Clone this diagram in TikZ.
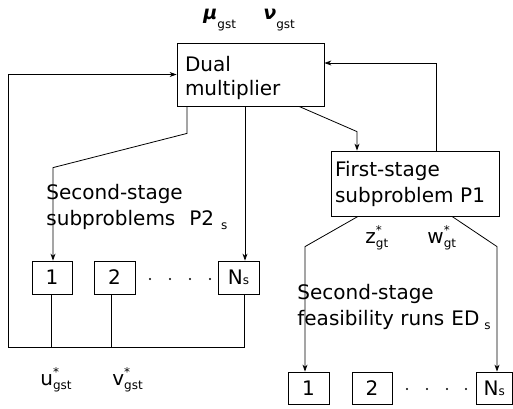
\documentclass[tikz,border=0pt]{standalone}
\usepackage{fontspec}
\setmainfont{DejaVu Sans}
\usetikzlibrary{arrows.meta}

\newcommand{\subfont}{\fontsize{12}{14}\selectfont}
\newcommand{\dualvar}[2]{{\fontsize{19}{19}\selectfont\bfseries\itshape #1}\raisebox{-9pt}{\subfont #2}}
\newcommand{\optvar}[2]{#1\rlap{\raisebox{9pt}{\subfont *}}\raisebox{-4pt}{\subfont #2}}

\begin{document}
\begin{tikzpicture}[x=1pt,y=-1pt,line width=0.8pt,
	>={Stealth[length=7pt,width=5pt]},
	every node/.style={font=\fontsize{20}{26}\selectfont},
	box/.style={draw,inner ysep=0pt,align=left},
	sbox/.style={draw,inner sep=0pt,minimum width=40pt,minimum height=33pt},
	txt/.style={inner sep=0pt,align=left}]
	\useasboundingbox (0,0) rectangle (513,408);

	% boxes
	\node[box,font=\fontsize{20}{24}\selectfont,minimum width=147pt,minimum height=63pt,text width=131pt,text height=22.4pt] (dual) at (250.5,74.5) {Dual\\multiplier};
	\node[box,minimum width=168pt,minimum height=65pt,text width=160pt,inner xsep=4pt] (fs) at (415,183.5) {First-stage\\subproblem P1};

	\node[sbox] (a1) at (52,277.5) {1};
	\node[sbox,minimum width=41pt] (a2) at (114.5,277.5) {2};
	\node[sbox,minimum width=41pt] (aN) at (238.5,277.5) {N{\subfont s}};
	\foreach \x in {150,170,190,210} \fill (\x,279) circle (1.1pt);

	\node[sbox,minimum width=41pt,minimum height=32pt] (b1) at (308.5,388) {1};
	\node[sbox,minimum height=32pt] (b2) at (372,388) {2};
	\node[sbox,minimum width=36.5pt,minimum height=32pt] (bN) at (494.25,388) {N{\subfont s}};
	\foreach \x in {407,427,447,466} \fill (\x,389) circle (1.1pt);

	% labels
	\node[txt,anchor=base west] (mu) at (203,19.5) {\dualvar{μ}{gst}};
	\node[txt,anchor=base west] (nu) at (263,19.5) {\dualvar{ν}{gst}};
	\node[txt,anchor=north west] (p2) at (46,184) {Second-stage\\subproblems\hspace{14pt}P2\hspace{7pt}\raisebox{-4pt}{\subfont s}};
	\node[txt,anchor=north west] (ed) at (297,284) {Second-stage\\feasibility runs\hspace{7pt}ED\hspace{5pt}\raisebox{-4pt}{\subfont s}};
	\node[txt,anchor=base west] (z) at (365,243) {\optvar{z}{gt}};
	\node[txt,anchor=base west] (w) at (427,243) {\optvar{w}{gt}};
	\node[txt,anchor=base west] (u) at (40,385) {\optvar{u}{gst}};
	\node[txt,anchor=base west] (v) at (112,385) {\optvar{v}{gst}};

	% connectors
	\coordinate (bus) at (8,347);
	\draw[->] ([xshift=5.5pt]aN.south) |- (bus) |- (dual.west);
	\draw ([xshift=-1pt]a1.south) -- ([xshift=-1pt]a1.south |- bus);
	\draw ([xshift=-3.5pt]a2.south) -- ([xshift=-3.5pt]a2.south |- bus);
	\draw[->] ([xshift=21pt]fs.north) |- ([yshift=11.5pt]dual.east);
	\draw[->] ([xshift=-63.5pt]dual.south) -- ++(0,27) -- ([xshift=1pt,yshift=93pt]a1.north) -- ([xshift=1pt]a1.north);
	\draw[->] ([xshift=-5.5pt]dual.south) -- ([xshift=6.5pt]aN.north);
	\draw[->] ([xshift=48.5pt]dual.south) -- ([xshift=-58pt,yshift=19pt]fs.north) -- ([xshift=-58pt]fs.north);
	\draw[->] ([xshift=-57pt]fs.south) -- ([xshift=-3.5pt,yshift=125pt]b1.north) -- ([xshift=-3.5pt]b1.north);
	\draw[->] ([xshift=37pt]fs.south) -- ([xshift=2.75pt,yshift=125pt]bN.north) -- ([xshift=2.75pt]bN.north);
\end{tikzpicture}
\end{document}
